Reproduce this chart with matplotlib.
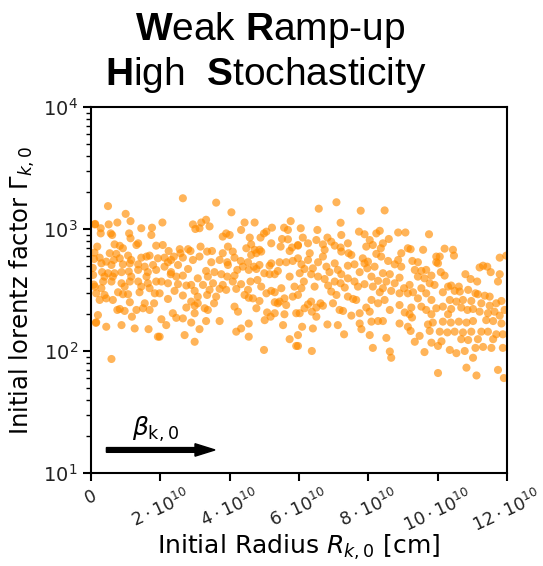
import matplotlib.pyplot as plt
import numpy as np

# (initial radius in 1e10 cm, initial lorentz factor), left to right
seg_a = [(0.12, 1100), (0.14, 170), (0.10, 640), (0.08, 350), (0.05, 480),
         (0.49, 1540), (1.0, 1330), (1.14, 1160), (0.11, 1090), (0.51, 1090), (0.76, 1130), (0.28, 1014),
         (0.28, 920), (0.57, 920), (0.61, 893), (1.45, 1014), (1.76, 1025), (1.74, 893), (1.10, 920),
         (1.14, 839), (1.36, 763), (1.31, 739), (1.88, 730), (0.18, 717), (0.68, 748), (0.83, 728),
         (0.92, 695), (0.54, 633), (0.73, 625), (1.07, 605), (0.09, 568), (0.25, 582), (0.44, 540),
         (0.66, 557), (0.83, 575), (1.16, 557), (1.45, 582), (1.60, 594), (1.69, 605), (1.93, 575),
         (0.30, 523), (0.59, 507), (0.92, 513), (1.12, 523), (1.36, 513), (1.55, 491), (1.79, 507),
         (0.32, 443), (0.49, 434), (0.68, 434), (0.88, 443), (1.09, 448), (1.36, 462), (1.64, 443),
         (1.88, 462), (0.06, 420), (0.39, 407), (0.63, 407), (1.16, 407), (1.60, 407), (0.35, 371),
         (0.59, 371), (0.88, 359), (1.12, 371), (1.36, 371), (1.64, 359), (1.88, 371), (0.11, 337),
         (0.30, 327), (0.97, 337), (1.45, 337), (1.69, 327), (0.15, 297), (0.39, 288), (0.78, 303),
         (0.92, 292), (1.07, 292), (1.40, 303), (1.84, 297), (0.25, 262), (0.44, 270), (0.63, 262),
         (1.12, 251), (1.55, 246), (1.82, 246), (0.83, 221), (0.97, 213), (0.76, 217), (1.31, 217),
         (1.50, 224), (1.69, 217), (0.20, 197), (1.18, 191), (0.15, 172), (0.44, 158), (0.88, 163),
         (1.26, 153), (1.66, 151), (1.93, 131), (0.59, 86)]

seg_b = [(2.65, 1786), (3.61, 1644), (2.06, 1130), (2.94, 1090), (3.18, 1130), (3.32, 1190), (3.42, 1050),
         (3.01, 1000), (3.13, 1014), (3.90, 920), (3.80, 866), (2.07, 739), (3.16, 717), (2.24, 660),
         (2.56, 683), (2.80, 683), (2.87, 660), (3.35, 653), (3.49, 660), (3.80, 633), (2.12, 582),
         (2.39, 594), (2.58, 633), (2.65, 582), (2.94, 557), (3.13, 594), (2.31, 557), (2.22, 534),
         (3.47, 534), (3.71, 557), (3.93, 534), (2.12, 491), (2.51, 507), (2.80, 470), (3.32, 453),
         (3.56, 443), (2.31, 443), (2.30, 426), (2.65, 415), (2.46, 407), (3.08, 394), (3.37, 407),
         (3.76, 426), (3.93, 407), (2.03, 371), (2.22, 359), (2.51, 353), (2.75, 344), (2.89, 348),
         (3.23, 348), (3.52, 359), (3.80, 348), (3.71, 323), (2.41, 311), (2.99, 311), (3.42, 317),
         (3.90, 317), (1.98, 297), (2.22, 267), (2.65, 285), (3.08, 279), (3.35, 288), (3.61, 279),
         (2.89, 254), (3.08, 246), (3.55, 246), (2.99, 235), (2.75, 227), (3.28, 224), (3.37, 217),
         (2.99, 204), (2.36, 204), (2.46, 187), (2.65, 185), (2.03, 182), (2.17, 163), (3.32, 176),
         (2.89, 171), (3.71, 176), (3.13, 151), (2.70, 135), (1.98, 131), (2.99, 119)]

seg_c = [(4.05, 1370), (4.43, 1130), (4.72, 1130), (4.33, 982), (5.22, 1025), (5.76, 1160), (5.57, 1025),
         (4.99, 920), (5.06, 951), (5.68, 982), (4.89, 850), (4.58, 850), (5.51, 828), (5.68, 823),
         (4.00, 893), (4.62, 748), (5.20, 763), (5.47, 717), (5.80, 705), (4.48, 695), (4.86, 675),
         (4.72, 675), (5.97, 730), (3.95, 717), (4.09, 653), (4.77, 633), (4.62, 613), (4.91, 653),
         (5.73, 660), (4.14, 582), (4.32, 547), (4.53, 534), (5.20, 523), (5.44, 534), (5.63, 534),
         (5.82, 547), (3.95, 507), (4.38, 491), (4.70, 491), (4.86, 507), (5.15, 500), (4.22, 462),
         (4.55, 462), (4.77, 470), (5.39, 453), (5.00, 434), (5.15, 426), (5.30, 426), (5.73, 407),
         (4.14, 415), (4.09, 371), (4.33, 353), (4.60, 371), (4.80, 382), (4.91, 337), (4.19, 323),
         (4.53, 317), (4.43, 288), (5.20, 311), (5.06, 297), (5.30, 303), (5.49, 327), (5.87, 337),
         (5.97, 288), (5.82, 279), (5.58, 270), (4.67, 270), (4.55, 273), (4.86, 257), (5.30, 251),
         (5.39, 246), (5.44, 254), (5.63, 238), (4.14, 231), (4.77, 224), (4.24, 210), (5.30, 204),
         (5.08, 207), (5.92, 204), (5.58, 200), (5.18, 191), (5.01, 179), (4.55, 168), (5.54, 163),
         (4.33, 153), (4.19, 144), (4.55, 131), (5.73, 125), (5.92, 110), (4.99, 102)]

seg_d = [(7.08, 1656), (6.57, 1467), (7.78, 1412), (7.20, 1125), (6.05, 1014), (6.53, 982), (7.73, 951),
         (7.89, 905), (6.11, 850), (6.82, 850), (7.22, 893), (6.50, 812), (6.93, 787), (6.69, 748),
         (7.03, 730), (7.41, 763), (6.26, 763), (5.97, 739), (7.20, 705), (7.94, 717), (6.74, 675),
         (6.31, 633), (7.22, 653), (7.43, 633), (7.51, 613), (6.69, 594), (5.97, 575), (7.84, 575),
         (6.26, 557), (7.03, 523), (6.55, 534), (6.07, 513), (6.79, 491), (7.41, 500), (7.60, 513),
         (7.89, 523), (6.16, 470), (6.40, 476), (7.12, 462), (7.97, 476), (6.02, 434), (6.35, 426),
         (6.88, 443), (7.22, 426), (7.75, 443), (6.55, 407), (6.74, 389), (7.41, 394), (7.60, 371),
         (6.14, 371), (7.03, 371), (7.20, 359), (7.89, 353), (6.45, 337), (6.84, 344), (6.07, 327),
         (6.93, 307), (7.32, 331), (7.70, 337), (7.08, 288), (7.41, 279), (7.56, 267), (7.65, 262),
         (6.35, 254), (6.26, 241), (6.62, 246), (6.69, 235), (6.50, 227), (6.98, 246), (7.27, 213),
         (7.17, 217), (6.16, 224), (6.02, 204), (6.37, 210), (6.50, 191), (7.75, 204), (7.94, 227),
         (7.51, 195), (6.09, 158), (6.40, 153), (6.82, 165), (7.12, 163), (7.75, 168), (7.80, 151),
         (7.30, 137), (5.97, 135), (5.97, 110), (6.37, 100)]

seg_e = [(8.47, 1420), (8.33, 966), (8.23, 920), (8.86, 936), (9.07, 936), (9.75, 905), (8.04, 812),
         (8.59, 828), (8.42, 763), (8.13, 739), (8.36, 695), (9.14, 695), (9.22, 683), (9.58, 675),
         (8.95, 633), (8.23, 625), (8.37, 594), (9.96, 594), (7.99, 540), (8.57, 547), (8.86, 557),
         (9.27, 547), (8.76, 513), (8.18, 491), (8.95, 491), (9.43, 534), (9.96, 534), (9.34, 462),
         (9.53, 453), (9.67, 462), (8.42, 434), (8.62, 426), (8.09, 407), (9.82, 415), (8.90, 399),
         (9.43, 407), (9.62, 394), (8.28, 376), (8.52, 371), (8.76, 359), (9.19, 348), (9.77, 359),
         (8.13, 337), (8.42, 327), (9.03, 327), (9.53, 327), (9.91, 348), (8.66, 311), (8.33, 303),
         (9.29, 303), (8.90, 297), (9.14, 297), (9.67, 297), (8.09, 262), (9.43, 270), (9.82, 262),
         (8.47, 262), (8.28, 246), (8.90, 238), (9.24, 227), (9.53, 231), (9.67, 217), (9.96, 224),
         (8.62, 217), (8.04, 210), (9.05, 207), (9.19, 200), (9.82, 200), (9.26, 188), (8.09, 174),
         (8.28, 176), (8.42, 176), (8.90, 168), (9.14, 158), (9.72, 165), (9.86, 171), (9.22, 146),
         (9.48, 133), (9.77, 146), (8.04, 135), (8.52, 128), (9.34, 119), (9.82, 117), (10.01, 110),
         (8.13, 106), (9.62, 98), (8.62, 99), (8.66, 88), (10.01, 66)]

seg_f = [(10.20, 690), (10.44, 675), (10.47, 605), (11.79, 582), (11.98, 605), (10.06, 594), (10.01, 523),
         (11.21, 484), (11.31, 500), (11.43, 491), (11.53, 443), (11.79, 426), (10.80, 426), (10.95, 389),
         (11.14, 371), (11.74, 371), (10.09, 443), (10.20, 415), (10.30, 337), (10.39, 344), (10.61, 337),
         (10.15, 303), (10.49, 311), (10.64, 307), (10.88, 317), (11.09, 297), (11.16, 292), (11.36, 284),
         (11.50, 279), (10.35, 262), (10.54, 254), (10.73, 262), (10.97, 257), (11.26, 246), (11.50, 235),
         (11.69, 246), (11.84, 257), (11.93, 217), (10.15, 231), (10.39, 221), (10.68, 227), (10.86, 217),
         (11.02, 221), (11.21, 210), (11.45, 204), (11.64, 210), (11.79, 195), (10.30, 200), (10.15, 174),
         (10.38, 171), (10.61, 174), (10.83, 171), (11.02, 176), (11.40, 179), (11.60, 176), (11.84, 168),
         (10.06, 144), (10.28, 142), (10.49, 144), (10.73, 142), (10.97, 144), (11.26, 144), (11.45, 144),
         (11.69, 137), (11.88, 137), (10.68, 125), (10.88, 123), (11.16, 125), (11.60, 125), (10.11, 120),
         (10.35, 102), (10.54, 96), (10.78, 100), (11.09, 106), (11.31, 108), (11.55, 106), (11.88, 106),
         (11.02, 88), (10.83, 73), (11.74, 70), (11.12, 63), (11.91, 60)]

xtick_vals = [0, 2, 4, 6, 8, 10, 12]

points = seg_a + seg_b + seg_c + seg_d + seg_e + seg_f
radius = np.array([p[0] for p in points]) * 1e10
gamma = np.array([p[1] for p in points])

plt.rcParams['mathtext.rm'] = 'Liberation Sans'
plt.rcParams['mathtext.bf'] = 'Liberation Sans:bold'

fig = plt.figure(figsize=(5.43, 5.66), dpi=100)
ax = fig.add_axes([0.1676, 0.1643, 0.7661, 0.6467])

ax.scatter(radius, gamma, s=34, color='darkorange', alpha=0.65, edgecolors='none')

ax.set_yscale('log')
ax.set_ylim(10, 1e4)
ax.set_xlim(0, 1.2e11)
ax.set_xticks([v * 1e10 for v in xtick_vals])
ax.set_xticklabels(['0'] + [r'$%d\cdot10^{10}$' % v for v in xtick_vals[1:]], rotation=25)
ax.tick_params(width=1.5, length=6, labelcolor='#222222')
ax.tick_params(axis='y', labelsize=14)
ax.tick_params(axis='x', labelsize=12.5)
ax.tick_params(which='minor', width=1, length=3.5)
for s in ax.spines.values():
    s.set_linewidth(1.5)

ax.set_xlabel(r'Initial Radius $R_{k,0}$ [cm]', fontsize=18)
ax.xaxis.set_label_coords(0.5, -0.163)
ax.set_ylabel(r'Initial lorentz factor $\Gamma_{k,0}$', fontsize=17.5)

# direction arrow
ax.arrow(0.037, 0.063, 0.261, 0, transform=ax.transAxes, width=0.013, head_width=0.034,
         head_length=0.048, length_includes_head=True, color='k')
ax.text(0.155, 0.078, r'$\beta_{\rm k,0}$', transform=ax.transAxes, fontsize=18, ha='center', va='bottom')

fig.text(0.497, 0.929, r'$\mathbf{W}$eak $\mathbf{R}$amp-up', family='Liberation Sans', fontsize=28,
         ha='center', va='baseline', math_fontfamily='custom')
fig.text(0.49, 0.85, r'$\mathbf{H}$igh  $\mathbf{S}$tochasticity', family='Liberation Sans', fontsize=28,
         ha='center', va='baseline', math_fontfamily='custom')

fig.savefig('out.png', dpi=100)
